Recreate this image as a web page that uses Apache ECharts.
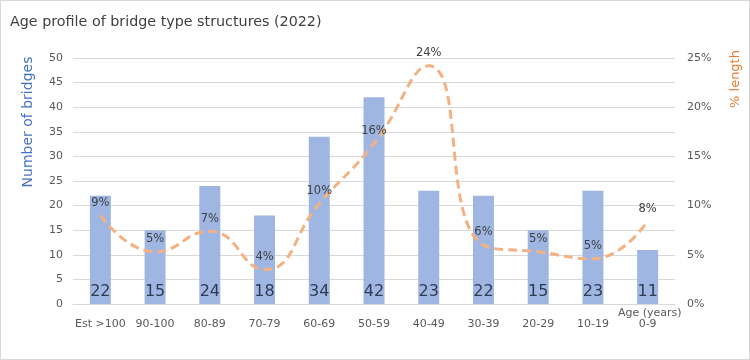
<!DOCTYPE html>
<html>
<head>
<meta charset="utf-8">
<script src="https://cdn.jsdelivr.net/npm/echarts@6/dist/echarts.min.js"></script>
<style>
html,body{margin:0;padding:0;background:#fff;}
#c{width:750px;height:360px;box-sizing:border-box;border:1px solid #d9d9d9;}
</style>
</head>
<body>
<div id="c"></div>
<script>
var categories = ['Est >100','90-100','80-89','70-79','60-69','50-59','40-49','30-39','20-29','10-19','0-9'];
var bridgeCounts = [22,15,24,18,34,42,23,22,15,23,11];
var pctLength = [9.0,5.3,7.4,3.5,10.2,16.3,24.2,6.0,5.3,4.6,8.4];
var leftTicks = {min:0,max:50,interval:5};
var rightTicks = {min:0,max:25,interval:5};

var chart = echarts.init(document.getElementById('c'), null, {renderer:'canvas'});
var font = 'DejaVu Sans';
chart.setOption({
  animation:false,
  textStyle:{fontFamily:font},
  title:{text:'Age profile of bridge type structures (2022)',left:4,top:9,
    textStyle:{fontFamily:font,fontSize:14.3,fontWeight:'normal',color:'#404040'}},
  grid:{left:72,right:74,top:57,bottom:55},
  xAxis:{type:'category',data:categories,
    axisLine:{lineStyle:{color:'#d9d9d9'}},axisTick:{show:false},
    axisLabel:{color:'#595959',fontSize:11,margin:15,interval:0}},
  yAxis:[
    {type:'value',min:leftTicks.min,max:leftTicks.max,interval:leftTicks.interval,
     axisLine:{show:false},axisTick:{show:false},
     splitLine:{lineStyle:{color:'#d9d9d9'}},
     axisLabel:{color:'#595959',fontSize:11,margin:10}},
    {type:'value',min:rightTicks.min,max:rightTicks.max,interval:rightTicks.interval,
     axisLine:{show:false},axisTick:{show:false},splitLine:{show:false},
     axisLabel:{color:'#595959',fontSize:11,margin:12,formatter:'{value}%'}}
  ],
  series:[
    {type:'bar',data:bridgeCounts,barWidth:21,itemStyle:{color:'#9fb6e3'},
     label:{show:true,position:'insideBottom',distance:4,fontSize:16,color:'#2f3b52'}},
    {type:'line',yAxisIndex:1,data:pctLength,smooth:0.5,showSymbol:true,symbol:'circle',symbolSize:1,
     itemStyle:{color:'#f4b183',opacity:0},
     lineStyle:{color:'#f4b183',width:3,type:[9,5]},
     label:{show:true,position:'top',distance:6,fontSize:11.5,color:'#404040',opacity:1,
       formatter:function(p){return Math.round(p.value)+'%';}},
     labelLayout:{hideOverlap:false}}
  ],
  graphic:[
    {type:'text',x:27,y:121,rotation:Math.PI/2,
     style:{text:'Number of bridges',fontFamily:font,fontSize:14,fill:'#4472c4',align:'center',verticalAlign:'middle'}},
    {type:'text',x:735,y:78,rotation:Math.PI/2,
     style:{text:'% length',fontFamily:font,fontSize:13,fill:'#ed7d31',align:'center',verticalAlign:'middle'}},
    {type:'text',x:617,y:307,
     style:{text:'Age (years)',fontFamily:font,fontSize:11,fill:'#595959'}}
  ]
});
</script>
</body>
</html>
